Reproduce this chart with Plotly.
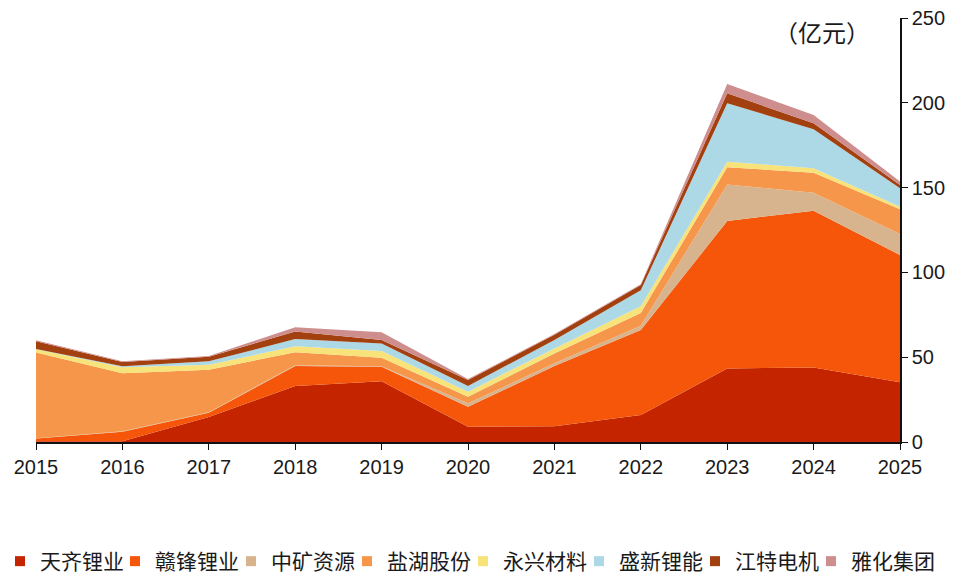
import plotly.graph_objects as go

years = [2015, 2016, 2017, 2018, 2019, 2020, 2021, 2022, 2023, 2024, 2025]

tianqi   = [0.5, 0.5, 14.8, 33.0, 35.8, 9.0, 9.3, 15.9, 43.4, 44.0, 35.2]
ganfeng  = [1.5, 5.6, 2.5, 11.8, 8.6, 11.8, 35.5, 50.1, 86.9, 92.4, 75.1]
zhongkuang = [0.2, 0.3, 0.3, 0.5, 0.3, 2.0, 1.6, 2.5, 21.6, 10.6, 12.3]
yanhu    = [50.5, 34.2, 25.0, 7.6, 5.0, 3.9, 5.8, 7.5, 10.1, 11.8, 14.6]
yongxing = [2.0, 3.5, 3.0, 3.5, 3.9, 3.0, 3.0, 4.0, 3.3, 2.6, 1.5]
shengxin = [0.2, 0.5, 2.0, 4.3, 4.5, 3.3, 5.0, 9.5, 34.4, 23.0, 10.9]
jiangte  = [4.5, 2.5, 2.6, 4.5, 2.0, 3.6, 3.0, 3.0, 5.9, 3.5, 2.0]
yahua    = [0.6, 0.5, 0.5, 2.4, 4.6, 0.5, 0.5, 0.5, 5.5, 4.9, 2.0]

names = ["天齐锂业", "赣锋锂业", "中矿资源", "盐湖股份", "永兴材料", "盛新锂能", "江特电机", "雅化集团"]
series = [tianqi, ganfeng, zhongkuang, yanhu, yongxing, shengxin, jiangte, yahua]
colors = ["#C42500", "#F5560A", "#D8B48E", "#F5964A", "#F8E27A", "#ADD8E6", "#A3400F", "#CF8E8E"]

unit_label = "（亿元）"
y_ticks = [0, 50, 100, 150, 200, 250]

FONT = "Liberation Sans, Arial, Noto Sans CJK SC, sans-serif"
CJK = "Noto Sans CJK SC, sans-serif"

fig = go.Figure()
for name, vals, col in zip(names, series, colors):
    fig.add_trace(go.Scatter(
        x=years, y=vals, name=name, mode="lines",
        stackgroup="one", line=dict(width=0, color=col),
        fillcolor=col, showlegend=False, hoverinfo="x+y+name",
    ))

# one small legend per company so the entries sit in a single evenly spaced row
legend_layouts = {}
for i, (name, col) in enumerate(zip(names, colors)):
    key = "legend" if i == 0 else f"legend{i + 1}"
    fig.add_trace(go.Scatter(
        x=[None], y=[None], name=name, mode="markers",
        marker=dict(symbol="square", size=10, color=col),
        showlegend=True, legend=key,
    ))
    legend_layouts[key] = dict(
        orientation="h", xref="container", yref="container",
        x=(-1 + 116 * i) / 962, y=-0.006,
        xanchor="left", yanchor="bottom",
        font=dict(family=CJK, size=21, color="#1a1a1a"),
        itemwidth=30, bgcolor="rgba(0,0,0,0)",
    )

fig.update_layout(
    width=962, height=582,
    margin=dict(l=36, r=62, t=18, b=140, autoexpand=False),
    paper_bgcolor="white", plot_bgcolor="white",
    font=dict(family=FONT, size=20, color="#1a1a1a"),
    xaxis=dict(
        range=[2015, 2025], tickmode="array", tickvals=years,
        ticktext=[str(y) for y in years],
        showline=True, linecolor="#111111", linewidth=1.5,
        ticks="outside", ticklen=6, tickwidth=1.2, tickcolor="#111111",
        showgrid=False, zeroline=False, fixedrange=True,
        tickfont=dict(size=20),
    ),
    yaxis=dict(
        range=[0, 250], side="right", tickmode="array", tickvals=y_ticks,
        showline=True, linecolor="#111111", linewidth=1.5,
        ticks="outside", ticklen=6, tickwidth=1.2, tickcolor="#111111",
        showgrid=False, zeroline=False, fixedrange=True,
        tickfont=dict(size=20),
    ),
    annotations=[dict(
        text=unit_label, xref="paper", yref="paper",
        x=(822 - 36) / 864, y=(442 - 31) / 424,
        xanchor="center", yanchor="middle", showarrow=False,
        font=dict(family=CJK, size=24, color="#1a1a1a"),
    )],
    **legend_layouts,
)

fig.write_html("out.html", config={"displayModeBar": False},
               post_script="document.body.style.margin='0';")
